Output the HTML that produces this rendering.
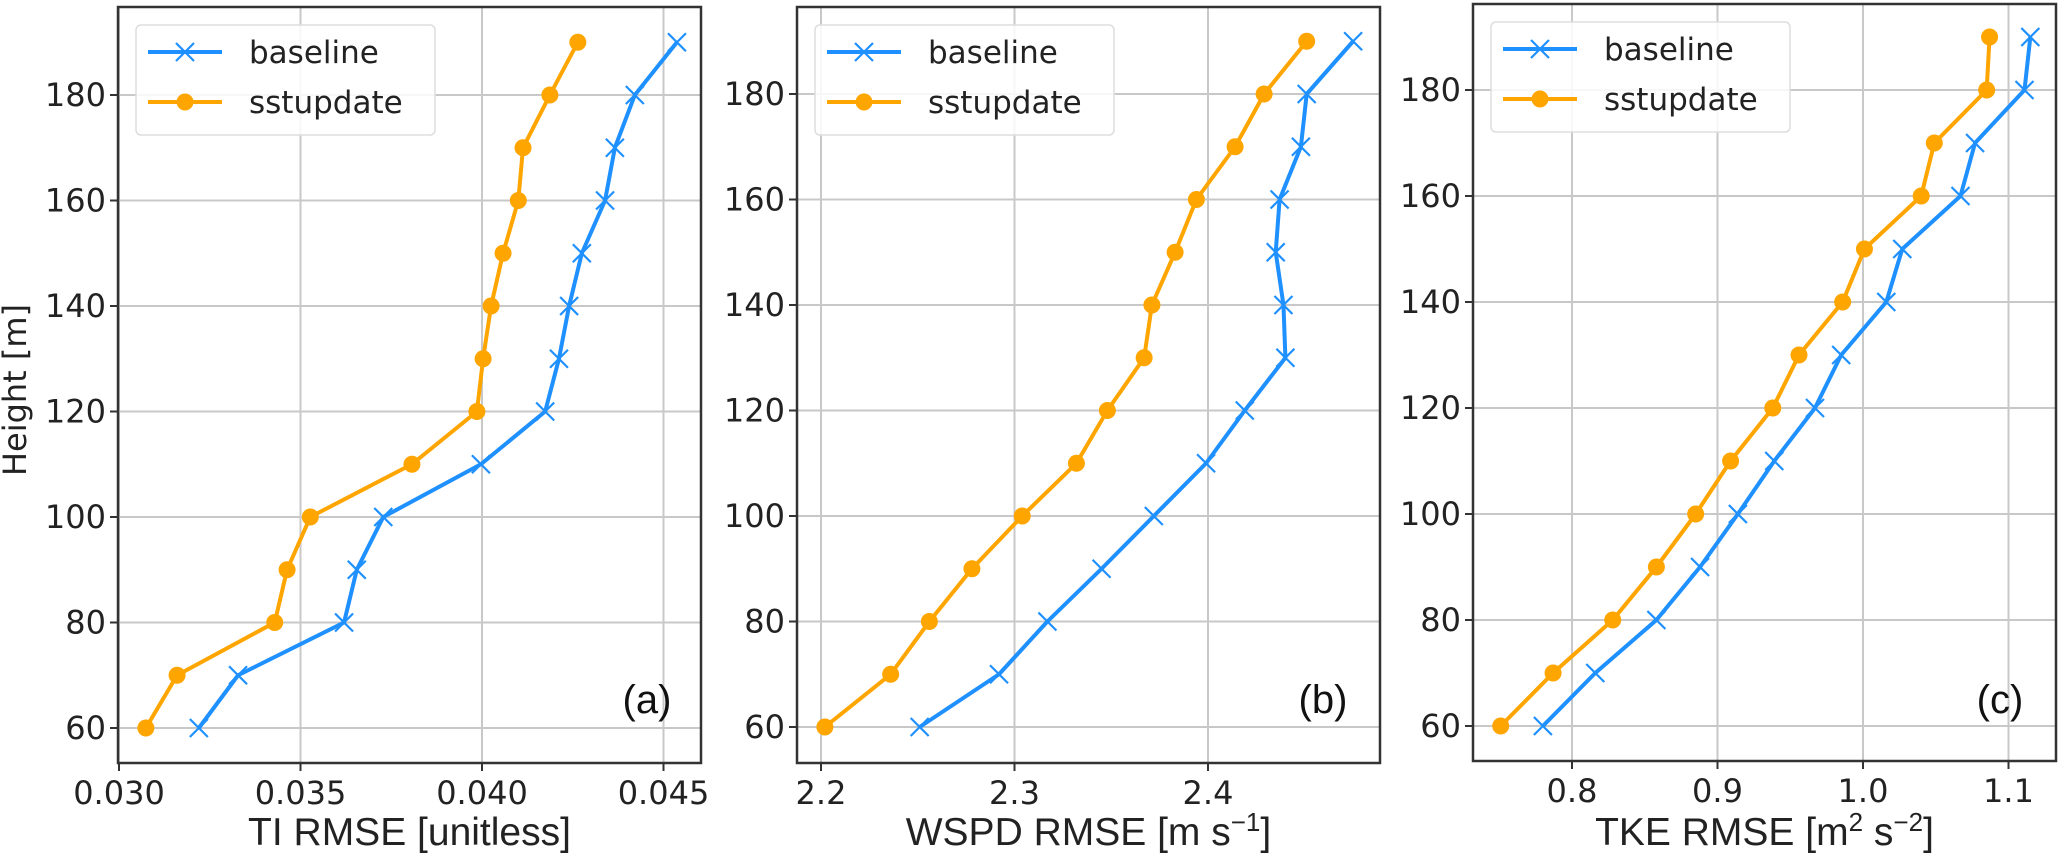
<!DOCTYPE html>
<html><head><meta charset="utf-8"><style>
html,body{margin:0;padding:0;background:#fff;}
svg{display:block;}
</style></head><body>
<svg id="fig" width="2067" height="857" viewBox="0 0 2067 857" xmlns="http://www.w3.org/2000/svg"></svg>
<script>
const heights = [60,70,80,90,100,110,120,130,140,150,160,170,180,190];
const yTicks = [60,80,100,120,140,160,180];
const tiBaseline = [0.0322,0.03328,0.0362,0.03655,0.03728,0.03997,0.04174,0.04212,0.0424,0.04275,0.04339,0.04366,0.04421,0.04537];
const tiSst = [0.03074,0.0316,0.03429,0.03463,0.03527,0.03807,0.03986,0.04003,0.04025,0.04058,0.041,0.04113,0.04187,0.04264];
const tiTicks = [0.030,0.035,0.040,0.045];
const tiTickLabels = ["0.030","0.035","0.040","0.045"];
const wsBaseline = [2.251,2.292,2.317,2.345,2.372,2.399,2.419,2.44,2.439,2.435,2.437,2.448,2.451,2.475];
const wsSst = [2.202,2.236,2.256,2.278,2.304,2.332,2.348,2.367,2.371,2.383,2.394,2.414,2.429,2.451];
const wsTicks = [2.2,2.3,2.4];
const wsTickLabels = ["2.2","2.3","2.4"];
const tkeBaseline = [0.78,0.816,0.858,0.888,0.914,0.939,0.967,0.985,1.016,1.027,1.067,1.077,1.111,1.115];
const tkeSst = [0.751,0.787,0.828,0.858,0.885,0.909,0.938,0.956,0.986,1.001,1.04,1.049,1.085,1.087];
const tkeTicks = [0.8,0.9,1.0,1.1];
const tkeTickLabels = ["0.8","0.9","1.0","1.1"];

const NS="http://www.w3.org/2000/svg";
const svg=document.getElementById('fig');
function mk(tag,attrs,parent){const e=document.createElementNS(NS,tag);for(const k in attrs)e.setAttribute(k,attrs[k]);(parent||svg).appendChild(e);return e;}
const BLUE="#1e90ff", ORANGE="#ffa500";
const TF='"DejaVu Sans","Liberation Sans",sans-serif';
const LF='"Liberation Sans",sans-serif';

function panel(p){
  const g=mk('g',{});
  
  
  const xs=v=>p.x0px+(v-p.x0v)*p.pxPer;
  const ys=h=>p.y60-(h-60)*p.pxPerM;
  yTicks.forEach(t=>{
    const l=mk('line',{x1:p.left,x2:p.right,y1:ys(t),y2:ys(t),stroke:'#c8c8c8','stroke-width':2},g);
    
    
    const tk=mk('line',{x1:p.left-8,x2:p.left,y1:ys(t),y2:ys(t),stroke:'#333','stroke-width':2},g);
    
    
    const tx=mk('text',{x:p.left-12,y:ys(t)+11,'text-anchor':'end','font-size':32,'font-family':TF,fill:'#222'},g);
    tx.textContent=t;
    
    
  });
  p.ticks.forEach((t,i)=>{
    const l=mk('line',{x1:xs(t),x2:xs(t),y1:p.top,y2:p.bottom,stroke:'#c8c8c8','stroke-width':2},g);
    
    
    const tk=mk('line',{x1:xs(t),x2:xs(t),y1:p.bottom,y2:p.bottom+8,stroke:'#333','stroke-width':2},g);
    
    
    const tx=mk('text',{x:xs(t),y:p.bottom+41,'text-anchor':'middle','font-size':32,'font-family':TF,fill:'#222'},g);
    tx.textContent=p.tickLabels[i];
    
    
  });
  const fr=mk('rect',{x:p.left,y:p.top,width:p.right-p.left,height:p.bottom-p.top,fill:'none',stroke:'#333','stroke-width':2.5},g);
  
  
  function series(vals,color,marker,nm){
    const pts=vals.map((v,i)=>xs(v)+','+ys(heights[i])).join(' ');
    const pl=mk('polyline',{points:pts,fill:'none',stroke:color,'stroke-width':4,'stroke-linejoin':'round'},g);
    
    
    vals.forEach((v,i)=>{
      const cx=xs(v),cy=ys(heights[i]);
      if(marker==='o'){
        const c=mk('circle',{cx:cx,cy:cy,r:8.5,fill:color},g);
        
        
      } else {
        const c=mk('path',{d:`M${cx-9},${cy-9}L${cx+9},${cy+9}M${cx-9},${cy+9}L${cx+9},${cy-9}`,stroke:color,'stroke-width':2.2,fill:'none'},g);
        
        
      }
    });
  }
  series(p.base,BLUE,'x','baseline');
  series(p.sst,ORANGE,'o','sstupdate');
  const lg=mk('g',{},g);
  
  
  mk('rect',{x:p.lgx,y:p.lgy,width:299,height:110,rx:5,fill:'#fff','fill-opacity':0.85,stroke:'#ddd','stroke-width':1.5},lg);
  const r1=p.lgy+27, r2=p.lgy+77;
  mk('line',{x1:p.lgx+12,x2:p.lgx+86,y1:r1,y2:r1,stroke:BLUE,'stroke-width':4},lg);
  const cx=p.lgx+49;
  mk('path',{d:`M${cx-9},${r1-9}L${cx+9},${r1+9}M${cx-9},${r1+9}L${cx+9},${r1-9}`,stroke:BLUE,'stroke-width':2.2},lg);
  mk('line',{x1:p.lgx+12,x2:p.lgx+86,y1:r2,y2:r2,stroke:ORANGE,'stroke-width':4},lg);
  mk('circle',{cx:cx,cy:r2,r:8.5,fill:ORANGE},lg);
  const t1=mk('text',{x:p.lgx+113,y:r1+11,'font-size':31,'font-family':TF,fill:'#222'},lg);t1.textContent='baseline';
  
  
  const t2=mk('text',{x:p.lgx+113,y:r2+11,'font-size':31,'font-family':TF,fill:'#222'},lg);t2.textContent='sstupdate';
  
  
  const xt=mk('text',{x:(p.left+p.right)/2,y:845,'text-anchor':'middle','font-size':39,'font-family':LF,fill:'#222'},g);
  xt.innerHTML=p.xtitle;
  
  
  const pl=mk('text',{x:p.lblx,y:713,'text-anchor':'middle','font-size':40,'font-family':LF,fill:'#111'},g);
  pl.textContent=p.label;
  
  
}

panel({name:'panel-a-ti',left:118,right:701,top:7,bottom:763,y60:728,pxPerM:5.275,x0v:0.030,x0px:119,pxPer:36300,
  ticks:tiTicks,tickLabels:tiTickLabels,base:tiBaseline,sst:tiSst,lgx:136,lgy:25,lblx:647,label:'(a)',
  xtitle:'TI RMSE [unitless]'});
panel({name:'panel-b-wspd',left:797,right:1380,top:7,bottom:763,y60:727,pxPerM:5.275,x0v:2.2,x0px:821,pxPer:1935,
  ticks:wsTicks,tickLabels:wsTickLabels,base:wsBaseline,sst:wsSst,lgx:815,lgy:25,lblx:1323,label:'(b)',
  xtitle:'WSPD RMSE [m s<tspan dy="-14" font-size="26">−1</tspan><tspan dy="14">]</tspan>'});
panel({name:'panel-c-tke',left:1473,right:2056,top:4,bottom:761,y60:726,pxPerM:5.3,x0v:0.8,x0px:1572,pxPer:1455,
  ticks:tkeTicks,tickLabels:tkeTickLabels,base:tkeBaseline,sst:tkeSst,lgx:1491,lgy:22,lblx:2000,label:'(c)',
  xtitle:'TKE RMSE [m<tspan dy="-14" font-size="26">2</tspan><tspan dy="14"> s</tspan><tspan dy="-14" font-size="26">−2</tspan><tspan dy="14">]</tspan>'});

const yt=mk('text',{x:0,y:0,'text-anchor':'middle','font-size':32,'font-family':TF,fill:'#222',transform:'translate(26,390) rotate(-90)'});
yt.textContent='Height [m]';


</script>
</body></html>
